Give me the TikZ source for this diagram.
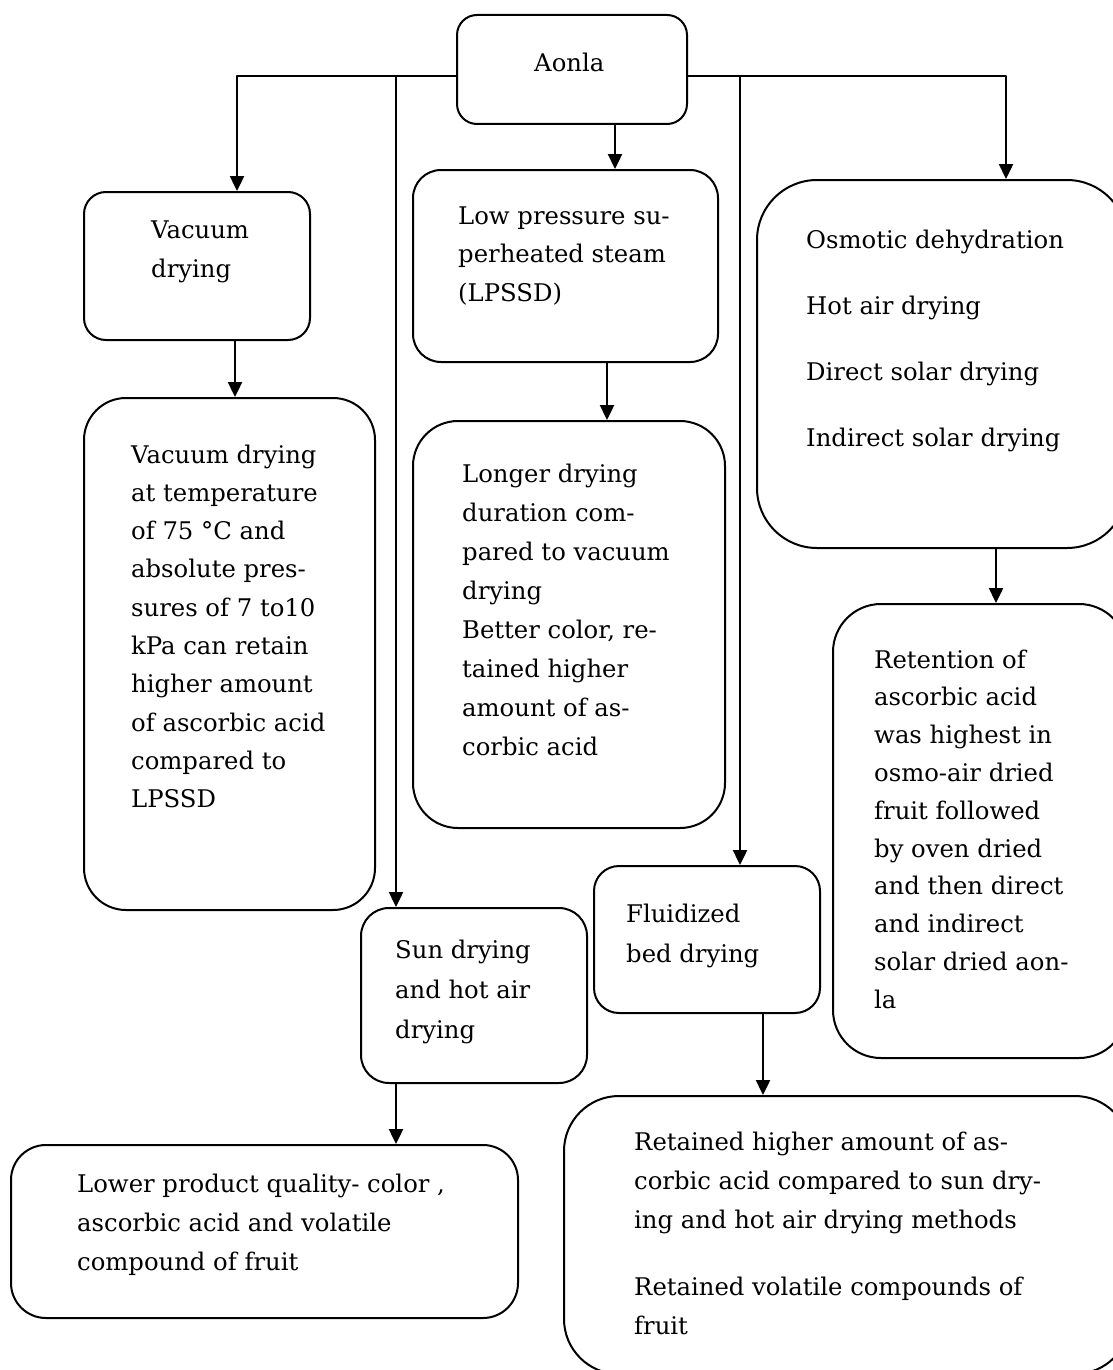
\documentclass[tikz,border=0pt]{standalone}
\usepackage{fontspec}
\setmainfont{DejaVu Serif}
\usetikzlibrary{arrows.meta,fit}

% a block of left-aligned lines whose first baseline sits on the node's base
\newcommand\txtblock[2][38.7]{\parbox[t]{700pt}{\fontsize{24.3}{#1}\selectfont\raggedright #2}}

\begin{document}
\begin{tikzpicture}[x=1pt, y=-1pt, line join=round,
  box/.style={draw, line width=2pt, inner sep=0pt, rounded corners=#1},
  box/.default=25pt,
  tx/.style={anchor=base west, inner sep=0pt},
  arr/.style={line width=2.4pt, -{Triangle[width=14pt,length=15pt]}}]

\path[use as bounding box, clip] (0,0) rectangle (1113,1370);
\fill[white] (0,0) rectangle (1113,1370);

% boxes
\node[box=20pt, fit={(457,15)(687,124)}]    (aonla) {};
\node[box=22pt, fit={(84,192)(310,340)}]    (vac)   {};
\node[box=42pt, fit={(84,398)(375,910)}]    (vact)  {};
\node[box=28pt, fit={(413,170)(718,362)}]   (lp)    {};
\node[box=45pt, fit={(413,421)(725,828)}]   (lpt)   {};
\node[box=60pt, fit={(757,180)(1127,548)}]  (osm)   {};
\node[box=48pt, fit={(833,604)(1127,1058)}] (ret)   {};
\node[box=28pt, fit={(361,908)(587,1083)}]  (sun)   {};
\node[box=25pt, fit={(594,866)(820,1013)}]  (flu)   {};
\node[box=35pt, fit={(11,1145)(518,1318)}]  (low)   {};
\node[box=55pt, fit={(564,1096)(1130,1374)}] (rd)   {};

% texts
\node[tx] (aonla-t) at (534,72)  {\txtblock{Aonla}};
\node[tx] (vac-t)   at (151,238) {\txtblock[39.5]{Vacuum\\drying}};
\node[tx] (vact-t)  at (131,463) {\txtblock[38.3]{Vacuum drying\\at temperature\\of 75 °C and\\absolute pres-\\sures of 7 to10\\kPa can retain\\higher amount\\of ascorbic acid\\compared to\\LPSSD}};
\node[tx] (lp-t)    at (458,224) {\txtblock[38.5]{Low pressure su-\\perheated steam\\(LPSSD)}};
\node[tx] (lpt-t)   at (462,482) {\txtblock[39]{Longer drying\\duration com-\\pared to vacuum\\drying\\Better color, re-\\tained higher\\amount of as-\\corbic acid}};
\node[tx] (osm-t)   at (806,248) {\txtblock[66.3]{Osmotic dehydration\\Hot air drying\\Direct solar drying\\Indirect solar drying}};
\node[tx] (ret-t)   at (874,668) {\txtblock[37.8]{Retention of\\ascorbic acid\\was highest in\\osmo-air dried\\fruit followed\\by oven dried\\and then direct\\and indirect\\solar dried aon-\\la}};
\node[tx] (sun-t)   at (395,958) {\txtblock[40]{Sun drying\\and hot air\\drying}};
\node[tx] (flu-t)   at (626,922) {\txtblock[40]{Fluidized\\bed drying}};
\node[tx] (low-t)   at (77,1192) {\txtblock[39]{Lower product quality- color ,\\ascorbic acid and volatile\\compound of fruit}};
\node[tx] (rd-t)    at (634,1150) {\txtblock[39.3]{Retained higher amount of as-\\corbic acid compared to sun dry-\\ing and hot air drying methods\\[27.7pt]Retained volatile compounds of\\fruit}};

% branch points on the bar leaving the top box
\coordinate (jL) at (237,76);
\coordinate (jS) at (396,76);
\coordinate (jF) at (740,76);
\coordinate (jR) at (1006,76);
% columns of the single downward links
\coordinate (xa) at (615,0);
\coordinate (xv) at (235,0);
\coordinate (xl) at (607,0);
\coordinate (xo) at (996,0);
\coordinate (xf) at (763,0);

% connectors
\draw[arr] (aonla.west |- jL) -- (jL) -- (jL |- vac.north);
\draw[arr] (aonla.east |- jR) -- (jR) -- (jR |- osm.north);
\draw[arr] (jS) -- (jS |- sun.north);
\draw[arr] (jF) -- (jF |- flu.north);
\draw[arr] (aonla.south -| xa) -- (lp.north -| xa);
\draw[arr] (vac.south -| xv) -- (vact.north -| xv);
\draw[arr] (lp.south -| xl) -- (lpt.north -| xl);
\draw[arr] (osm.south -| xo) -- (ret.north -| xo);
\draw[arr] (sun.south -| jS) -- (low.north -| jS);
\draw[arr] (flu.south -| xf) -- (rd.north -| xf);
\end{tikzpicture}
\end{document}
